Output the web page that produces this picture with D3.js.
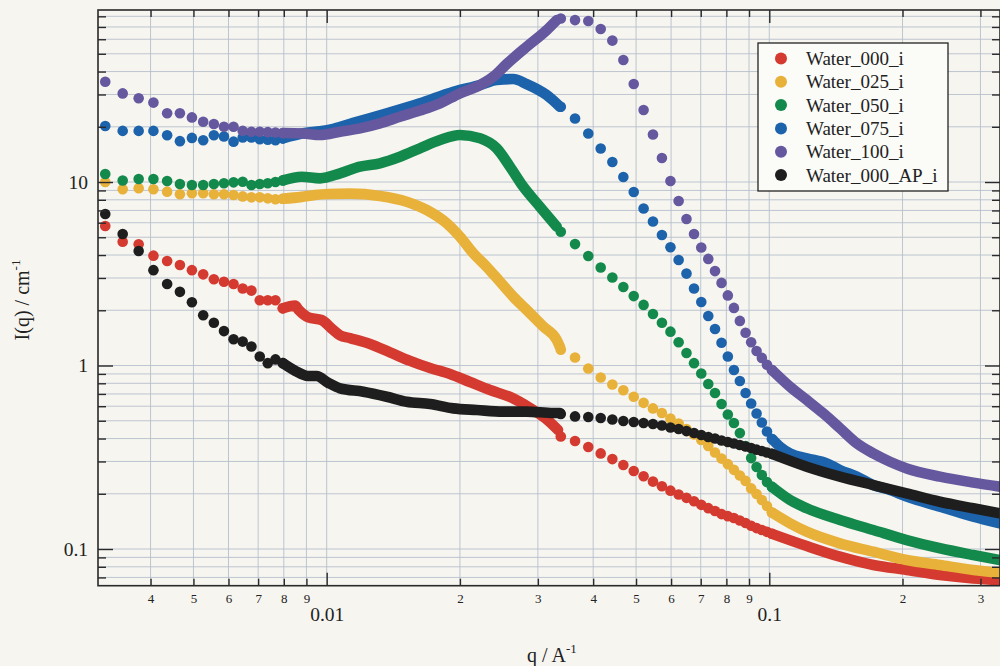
<!DOCTYPE html>
<html>
<head>
<meta charset="utf-8">
<script src="https://cdn.jsdelivr.net/npm/d3@7"></script>
<style>
  html, body { margin: 0; padding: 0; background: #f6f5f0; }
  #chart { width: 1000px; height: 666px; overflow: hidden; }
  text { font-family: "Liberation Serif", "DejaVu Serif", serif; fill: #222; }
</style>
</head>
<body>
<div id="chart"></div>
<script>
// ---- data (q in 1/A, I in 1/cm) ----
const seriesNames = ["Water_000_i", "Water_025_i", "Water_050_i", "Water_075_i", "Water_100_i", "Water_000_AP_i"];
const seriesColors = ["#d43a2f", "#e8b13a", "#138a4c", "#1d63ab", "#65589f", "#1e1e1e"];

// low-q detector setting, separate points
const qLow = [0.00316, 0.00346, 0.00376, 0.00406, 0.00436, 0.00466, 0.00496, 0.00526, 0.00556,
              0.00586, 0.00616, 0.00646, 0.00676, 0.00706, 0.00736, 0.00766, 0.00796];
// high-q detector setting, separate points
const qHigh = [0.0338, 0.0364, 0.0390, 0.0416, 0.0442, 0.0468, 0.0494, 0.0520, 0.0546, 0.0572,
               0.0598, 0.0624, 0.0650, 0.0676, 0.0702, 0.0728, 0.0754, 0.0780, 0.0806, 0.0832,
               0.0858, 0.0884, 0.0910, 0.0936, 0.0962, 0.0988, 0.1014];

// Water_000_i
const redLow = [5.76, 4.73, 4.58, 3.97, 3.71, 3.53, 3.31, 3.14, 2.95, 2.86, 2.78, 2.63, 2.56, 2.27, 2.27, 2.27, 2.05];
const redLowTrace = [[0.00796, 2.05], [0.00848, 2.12], [0.00866, 2.0], [0.00909, 1.83], [0.00974, 1.77], [0.01026, 1.59],
                     [0.01072, 1.46], [0.01129, 1.41], [0.01253, 1.31], [0.01390, 1.18], [0.01543, 1.06], [0.01712, 0.969],
                     [0.01899, 0.899], [0.02107, 0.813], [0.02339, 0.735], [0.02595, 0.674], [0.02879, 0.587],
                     [0.03113, 0.518], [0.03332, 0.445]];
const redHigh = [0.41, 0.388, 0.360, 0.332, 0.309, 0.287, 0.266, 0.249, 0.233, 0.220, 0.208, 0.198, 0.190, 0.182,
                 0.174, 0.167, 0.161, 0.155, 0.151, 0.1475, 0.143, 0.1385, 0.134, 0.130, 0.127, 0.124, 0.121];
const redHighTrace = [[0.1014, 0.121], [0.1215, 0.1038], [0.1444, 0.0908], [0.1718, 0.0818], [0.2044, 0.0769],
                      [0.2430, 0.0722], [0.2890, 0.0692], [0.332, 0.0678]];

// Water_025_i
const yellowLow = [10.0, 9.13, 9.24, 9.13, 8.86, 8.57, 8.68, 8.68, 8.57, 8.57, 8.50, 8.35, 8.25, 8.25, 8.15, 8.05, 8.10];
const yellowLowTrace = [[0.00796, 8.10], [0.00878, 8.30], [0.00941, 8.50], [0.01007, 8.60], [0.01129, 8.65], [0.01319, 8.40],
                        [0.01516, 7.81], [0.01683, 7.04], [0.01867, 5.96], [0.02001, 5.03], [0.02144, 4.09], [0.02299, 3.45],
                        [0.02464, 2.86], [0.02640, 2.37], [0.02830, 2.01], [0.03086, 1.63], [0.03309, 1.38], [0.03367, 1.26]];
const yellowHigh = [1.22, 1.105, 0.963, 0.860, 0.788, 0.733, 0.676, 0.626, 0.584, 0.551, 0.514, 0.483, 0.451, 0.421,
                    0.393, 0.364, 0.336, 0.311, 0.290, 0.270, 0.2515, 0.235, 0.214, 0.1995, 0.185, 0.1715, 0.158];
const yellowHighTrace = [[0.1014, 0.158], [0.1114, 0.138], [0.1215, 0.1243], [0.1444, 0.1074], [0.1718, 0.0967],
                         [0.2044, 0.0871], [0.2430, 0.0818], [0.2890, 0.0769], [0.332, 0.0743]];

// Water_050_i
const greenLow = [11.06, 10.2, 10.38, 10.38, 10.13, 9.75, 9.63, 9.63, 9.75, 9.84, 9.96, 10.04, 9.63, 9.75, 9.84, 10.0, 10.2];
const greenLowTrace = [[0.00796, 10.2], [0.00878, 10.69], [0.00966, 10.47], [0.01072, 11.15], [0.01189, 12.12], [0.01319, 12.65],
                       [0.01464, 13.74], [0.01624, 15.27], [0.01803, 16.94], [0.02001, 18.04], [0.02220, 17.30],
                       [0.02421, 15.27], [0.02595, 12.12], [0.02781, 9.43], [0.03033, 7.33], [0.03309, 5.71]];
const greenHigh = [5.36, 4.59, 3.95, 3.42, 3.02, 2.68, 2.39, 2.14, 1.91, 1.71, 1.53, 1.34, 1.17, 1.03,
                   0.905, 0.793, 0.708, 0.617, 0.541, 0.486, 0.429, 0.364, 0.313, 0.280, 0.253, 0.232, 0.218];
const greenHighTrace = [[0.1014, 0.218], [0.1114, 0.185], [0.1215, 0.1667], [0.1444, 0.1439], [0.1718, 0.1269],
                        [0.2044, 0.1119], [0.2430, 0.1009], [0.2890, 0.0927], [0.332, 0.0871]];

// Water_075_i
const blueLow = [20.2, 19.0, 19.0, 19.0, 18.0, 16.7, 17.4, 16.9, 18.0, 17.7, 16.6, 17.5, 17.5, 17.1, 17.0, 16.9, 17.3];
const blueLowTrace = [[0.00796, 17.3], [0.00893, 18.5], [0.00966, 18.9], [0.01035, 19.5], [0.01148, 21.0], [0.01367, 23.68],
                      [0.01624, 26.85], [0.01932, 31.05], [0.02220, 33.78], [0.02421, 35.95], [0.02640, 36.4],
                      [0.02830, 34.2], [0.03141, 29.8], [0.03367, 25.7]];
const blueHigh = [25.7, 22.18, 18.38, 15.23, 12.85, 10.65, 8.82, 7.17, 6.09, 5.14, 4.41, 3.76, 3.17, 2.63,
                  2.22, 1.86, 1.58, 1.33, 1.12, 0.945, 0.823, 0.708, 0.621, 0.548, 0.489, 0.437, 0.398];
const blueHighTrace = [[0.1014, 0.398], [0.1057, 0.361], [0.1114, 0.332], [0.1215, 0.312], [0.1348, 0.293], [0.1444, 0.2695],
                       [0.1576, 0.248], [0.1718, 0.223], [0.1874, 0.2097], [0.2044, 0.193], [0.2430, 0.170],
                       [0.2890, 0.150], [0.332, 0.138]];

// Water_100_i
const purpleLow = [35.2, 30.4, 28.6, 27.1, 23.7, 23.7, 22.5, 21.3, 20.7, 20.0, 20.0, 19.0, 18.8, 18.8, 18.7, 18.6, 18.5];
const purpleLowTrace = [[0.00796, 18.5], [0.00883, 18.4], [0.00966, 18.04], [0.01072, 18.8], [0.01189, 19.62], [0.01319, 20.89],
                        [0.01464, 22.69], [0.01624, 24.53], [0.01803, 26.85], [0.02001, 30.44], [0.02183, 33.06],
                        [0.02379, 37.47], [0.02551, 43.97], [0.02830, 54.6], [0.03141, 67.3], [0.03309, 76.3]];
const purpleHigh = [77.8, 76.3, 75.4, 68.2, 59.0, 46.2, 34.2, 24.7, 18.15, 13.52, 10.13, 7.88, 6.29, 5.21,
                    4.40, 3.81, 3.27, 2.82, 2.41, 2.06, 1.75, 1.51, 1.34, 1.20, 1.10, 1.01, 0.945];
const purpleHighTrace = [[0.1014, 0.945], [0.1114, 0.766], [0.1215, 0.649], [0.1324, 0.549], [0.1444, 0.456], [0.1576, 0.377],
                         [0.1718, 0.332], [0.1874, 0.299], [0.2044, 0.275], [0.2430, 0.248], [0.2890, 0.230], [0.332, 0.2186]];

// Water_000_AP_i
const blackLow = [6.69, 5.21, 4.21, 3.31, 2.78, 2.52, 2.21, 1.88, 1.71, 1.54, 1.39, 1.35, 1.27, 1.12, 1.03, 1.08, 1.03];
const blackLowTrace = [[0.00796, 1.03], [0.00848, 0.937], [0.00907, 0.877], [0.00949, 0.877], [0.01007, 0.806], [0.01072, 0.751],
                       [0.01210, 0.720], [0.01367, 0.676], [0.01516, 0.635], [0.01712, 0.617], [0.01932, 0.584],
                       [0.02183, 0.572], [0.02506, 0.561], [0.02830, 0.561], [0.03251, 0.551], [0.03367, 0.551]];
const blackHigh = [0.544, 0.528, 0.524, 0.518, 0.508, 0.498, 0.492, 0.486, 0.480, 0.471, 0.459, 0.451, 0.439, 0.429,
                   0.418, 0.408, 0.400, 0.390, 0.383, 0.376, 0.369, 0.362, 0.355, 0.348, 0.342, 0.336, 0.330];
const blackHighTrace = [[0.1014, 0.330], [0.1215, 0.281], [0.1444, 0.248], [0.1718, 0.223], [0.2044, 0.201],
                        [0.2430, 0.181], [0.2890, 0.1667], [0.332, 0.1565]];

// ticks
const xMinorTicks = [0.004, 0.005, 0.006, 0.007, 0.008, 0.009, 0.02, 0.03, 0.04, 0.05, 0.06, 0.07, 0.08, 0.09, 0.2, 0.3];
const xMinorLabels = ["4", "5", "6", "7", "8", "9", "2", "3", "4", "5", "6", "7", "8", "9", "2", "3"];
const xMajorTicks = [0.01, 0.1];
const xMajorLabels = ["0.01", "0.1"];
const yMinorTicks = [0.07, 0.08, 0.09, 0.2, 0.3, 0.4, 0.5, 0.6, 0.7, 0.8, 0.9, 2, 3, 4, 5, 6, 7, 8, 9, 20, 30, 40, 50, 60, 70, 80];
const yMajorTicks = [0.1, 1, 10];
const yMajorLabels = ["0.1", "1", "10"];

const R = 5.3; // marker radius

document.addEventListener('DOMContentLoaded', function() {
    console.log("DOM loaded");
    const svg = setupSVG();
    const dims = { left: 98, right: 1000, top: 10, bottom: 585.7 };
    const x = d3.scaleLog().domain([0.003043, 0.3321]).range([dims.left, dims.right]);
    const y = d3.scaleLog().domain([0.0631, 86.6]).range([dims.bottom, dims.top]);

    drawGrid(svg, x, y, dims);
    drawSeries(svg, buildSeries(), x, y, dims);
    drawAxes(svg, x, y, dims);
    drawTitles(svg);
    drawLegend(svg);
});

function setupSVG() {
    return d3.select('#chart').append('svg')
        .attr('width', 1000)
        .attr('height', 666);
}

function buildSeries() {
    return [
        { low: redLow, lowTrace: redLowTrace, high: redHigh, highTrace: redHighTrace },
        { low: yellowLow, lowTrace: yellowLowTrace, high: yellowHigh, highTrace: yellowHighTrace },
        { low: greenLow, lowTrace: greenLowTrace, high: greenHigh, highTrace: greenHighTrace },
        { low: blueLow, lowTrace: blueLowTrace, high: blueHigh, highTrace: blueHighTrace },
        { low: purpleLow, lowTrace: purpleLowTrace, high: purpleHigh, highTrace: purpleHighTrace },
        { low: blackLow, lowTrace: blackLowTrace, high: blackHigh, highTrace: blackHighTrace }
    ].map((s, i) => Object.assign(s, { name: seriesNames[i], color: seriesColors[i] }));
}

function drawGrid(svg, x, y, dims) {
    const g = svg.append('g').attr('class', 'grid')
        .attr('stroke', '#b7bfcc').attr('stroke-width', 0.9);
    g.selectAll('.vgrid')
        .data(xMinorTicks.concat(xMajorTicks))
        .enter().append('line')
        .attr('x1', d => x(d)).attr('x2', d => x(d))
        .attr('y1', dims.top).attr('y2', dims.bottom);
    g.selectAll('.hgrid')
        .data(yMinorTicks.concat(yMajorTicks))
        .enter().append('line')
        .attr('x1', dims.left).attr('x2', dims.right)
        .attr('y1', d => y(d)).attr('y2', d => y(d));
}

function drawSeries(svg, series, x, y, dims) {
    svg.append('clipPath').attr('id', 'plot-clip')
        .append('rect')
        .attr('x', dims.left).attr('y', dims.top)
        .attr('width', dims.right - dims.left).attr('height', dims.bottom - dims.top);

    const line = d3.line()
        .x(d => x(d[0]))
        .y(d => y(d[1]))
        .curve(d3.curveMonotoneX);

    const plot = svg.append('g').attr('clip-path', 'url(#plot-clip)');
    series.forEach(s => {
        const g = plot.append('g').attr('class', 'series');
        // dense runs of markers merge into a solid band
        [s.lowTrace, s.highTrace].forEach(t => {
            g.append('path')
                .attr('d', line(t))
                .attr('fill', 'none')
                .attr('stroke', s.color)
                .attr('stroke-width', 2 * R)
                .attr('stroke-linecap', 'round')
                .attr('stroke-linejoin', 'round');
        });
        const pts = qLow.map((q, i) => [q, s.low[i]])
            .concat(qHigh.map((q, i) => [q, s.high[i]]));
        g.selectAll('circle')
            .data(pts)
            .enter().append('circle')
            .attr('cx', d => x(d[0]))
            .attr('cy', d => y(d[1]))
            .attr('r', R)
            .attr('fill', s.color);
    });
}

function drawAxes(svg, x, y, dims) {
    const tickColor = '#2a2a2a';
    const style = g => {
        g.attr('color', '#222');
        g.select('.domain').remove();
        g.selectAll('.tick line').attr('stroke', tickColor).attr('stroke-width', 1.4);
        g.selectAll('.tick text').attr('fill', '#222').attr('font-family', null);
    };

    // bottom
    svg.append('g').attr('transform', `translate(0,${dims.bottom})`)
        .call(d3.axisBottom(x).tickValues(xMinorTicks).tickSize(-7).tickPadding(8)
            .tickFormat((d, i) => xMinorLabels[i]))
        .call(style)
        .call(g => g.selectAll('text').style('font-size', '13px'));
    svg.append('g').attr('transform', `translate(0,${dims.bottom})`)
        .call(d3.axisBottom(x).tickValues(xMajorTicks).tickSize(-13).tickPadding(21)
            .tickFormat((d, i) => xMajorLabels[i]))
        .call(style)
        .call(g => g.selectAll('text').style('font-size', '19.5px'));

    // top
    svg.append('g').attr('transform', `translate(0,${dims.top})`)
        .call(d3.axisTop(x).tickValues(xMinorTicks).tickSize(-7).tickFormat(''))
        .call(style);
    svg.append('g').attr('transform', `translate(0,${dims.top})`)
        .call(d3.axisTop(x).tickValues(xMajorTicks).tickSize(-13).tickFormat(''))
        .call(style);

    // left
    svg.append('g').attr('transform', `translate(${dims.left},0)`)
        .call(d3.axisLeft(y).tickValues(yMinorTicks).tickSize(-8).tickFormat(''))
        .call(style);
    svg.append('g').attr('transform', `translate(${dims.left},0)`)
        .call(d3.axisLeft(y).tickValues(yMajorTicks).tickSize(-15).tickPadding(10)
            .tickFormat((d, i) => yMajorLabels[i]))
        .call(style)
        .call(g => g.selectAll('text').style('font-size', '19.5px'));

    // right
    svg.append('g').attr('transform', `translate(${dims.right},0)`)
        .call(d3.axisRight(y).tickValues(yMinorTicks).tickSize(-8).tickFormat(''))
        .call(style);
    svg.append('g').attr('transform', `translate(${dims.right},0)`)
        .call(d3.axisRight(y).tickValues(yMajorTicks).tickSize(-15).tickFormat(''))
        .call(style);

    // frame
    svg.append('rect')
        .attr('x', dims.left).attr('y', dims.top)
        .attr('width', dims.right - dims.left).attr('height', dims.bottom - dims.top)
        .attr('fill', 'none')
        .attr('stroke', tickColor)
        .attr('stroke-width', 1.6);
}

function drawTitles(svg) {
    const xt = svg.append('text')
        .attr('x', 527).attr('y', 662)
        .style('font-size', '20px');
    xt.append('tspan').text('q / A');
    xt.append('tspan').attr('dy', -9).style('font-size', '13px').text('-1');

    const yt = svg.append('text')
        .attr('transform', 'translate(29,300) rotate(-90)')
        .attr('text-anchor', 'middle')
        .style('font-size', '20px');
    yt.append('tspan').text('I(q) / cm');
    yt.append('tspan').attr('dy', -9).style('font-size', '13px').text('-1');
}

function drawLegend(svg) {
    const g = svg.append('g').attr('class', 'legend');
    g.append('rect')
        .attr('x', 758).attr('y', 43)
        .attr('width', 190).attr('height', 148)
        .attr('fill', '#fbfbf8')
        .attr('stroke', '#222')
        .attr('stroke-width', 1.3);
    const rows = g.selectAll('.legend-row')
        .data(seriesNames)
        .enter().append('g')
        .attr('class', 'legend-row')
        .attr('transform', (d, i) => `translate(0,${58.5 + i * 23.3})`);
    rows.append('circle')
        .attr('cx', 781).attr('cy', 0).attr('r', 6)
        .attr('fill', (d, i) => seriesColors[i]);
    rows.append('text')
        .attr('x', 806).attr('y', 0).attr('dy', '0.35em')
        .style('font-size', '19px')
        .text(d => d);
}
</script>
</body>
</html>
